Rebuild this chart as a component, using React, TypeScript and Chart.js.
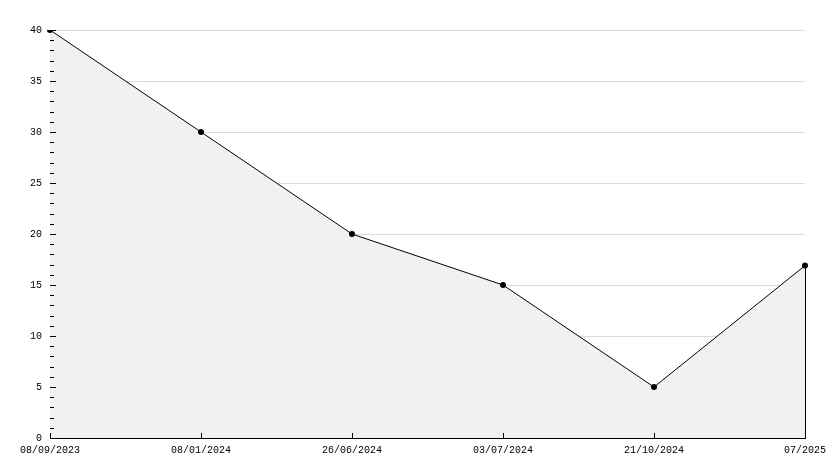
import React, { useEffect, useRef } from "react";
import { Chart, registerables } from "chart.js";

Chart.register(...registerables);

const categories = ["08/09/2023", "08/01/2024", "26/06/2024", "03/07/2024", "21/10/2024", "07/2025"];
const values = [40, 30, 20, 15, 5, 16.9];
const yMin = 0;
const yMax = 40;
const yMajorStep = 5;
const yMinorStep = 1;

const FONT = "'Liberation Mono', 'DejaVu Sans Mono', monospace";

const tickPlugin = {
  id: "customTicks",
  afterDraw(chart: any) {
    const ctx = chart.ctx;
    const y = chart.scales.y;
    const x = chart.scales.x;
    const area = chart.chartArea;
    ctx.save();
    ctx.strokeStyle = "#000";
    ctx.lineWidth = 1;
    // right edge of filled area
    const meta = chart.getDatasetMeta(0);
    const last = meta.data[meta.data.length - 1];
    if (last) {
      const lx = Math.round(last.x) + 0.5;
      ctx.beginPath();
      ctx.moveTo(lx, last.y);
      ctx.lineTo(lx, area.bottom);
      ctx.stroke();
    }
    // y ticks (inward), major and minor
    for (let v = yMin; v <= yMax; v += yMinorStep) {
      const py = Math.round(y.getPixelForValue(v)) + 0.5;
      const major = v % yMajorStep === 0;
      ctx.beginPath();
      ctx.moveTo(area.left, py);
      ctx.lineTo(area.left + (major ? 6 : 4), py);
      ctx.stroke();
    }
    // x ticks (inward)
    for (let i = 0; i < categories.length; i++) {
      const px = Math.round(x.getPixelForValue(i)) + 0.5;
      ctx.beginPath();
      ctx.moveTo(px, area.bottom);
      ctx.lineTo(px, area.bottom - 5);
      ctx.stroke();
    }
    ctx.restore();
  },
};

export default function App() {
  const ref = useRef<HTMLCanvasElement | null>(null);
  useEffect(() => {
    if (!ref.current) return;
    const chart = new Chart(ref.current, {
      type: "line",
      data: {
        labels: categories,
        datasets: [
          {
            data: values,
            borderColor: "#000",
            borderWidth: 1,
            backgroundColor: "#f1f1f1",
            fill: "origin",
            tension: 0,
            pointRadius: 3,
            pointBackgroundColor: "#000",
            pointBorderColor: "#000",
            pointBorderWidth: 0,
            pointStyle: "circle",
          },
        ],
      },
      options: {
        responsive: false,
        animation: false,
        devicePixelRatio: 1,
        layout: { padding: { top: 30, right: 29, left: 0, bottom: 0 } },
        plugins: { legend: { display: false }, tooltip: { enabled: false } },
        scales: {
          x: {
            type: "category",
            offset: false,
            grid: { display: false, drawTicks: false },
            border: { display: true, color: "#000", width: 1 },
            ticks: {
              color: "#000",
              font: { family: FONT, size: 10 },
              padding: 6,
              maxRotation: 0,
              autoSkip: false,
            },
            afterFit: (s: any) => {
              s.height = 30;
            },
          },
          y: {
            min: yMin,
            max: yMax,
            grid: { color: "#dcdcdc", drawTicks: false, lineWidth: 1 },
            border: { display: true, color: "#000", width: 1 },
            ticks: {
              stepSize: yMajorStep,
              color: "#000",
              font: { family: FONT, size: 10 },
              padding: 8,
            },
            afterFit: (s: any) => {
              s.width = 50;
            },
          },
        },
      },
      plugins: [tickPlugin],
    });
    return () => chart.destroy();
  }, []);
  return (
    <div style={{ position: "fixed", left: 0, top: 0, width: 834, height: 468, background: "#fff" }}>
      <canvas ref={ref} width={834} height={468} style={{ display: "block" }} />
    </div>
  );
}
